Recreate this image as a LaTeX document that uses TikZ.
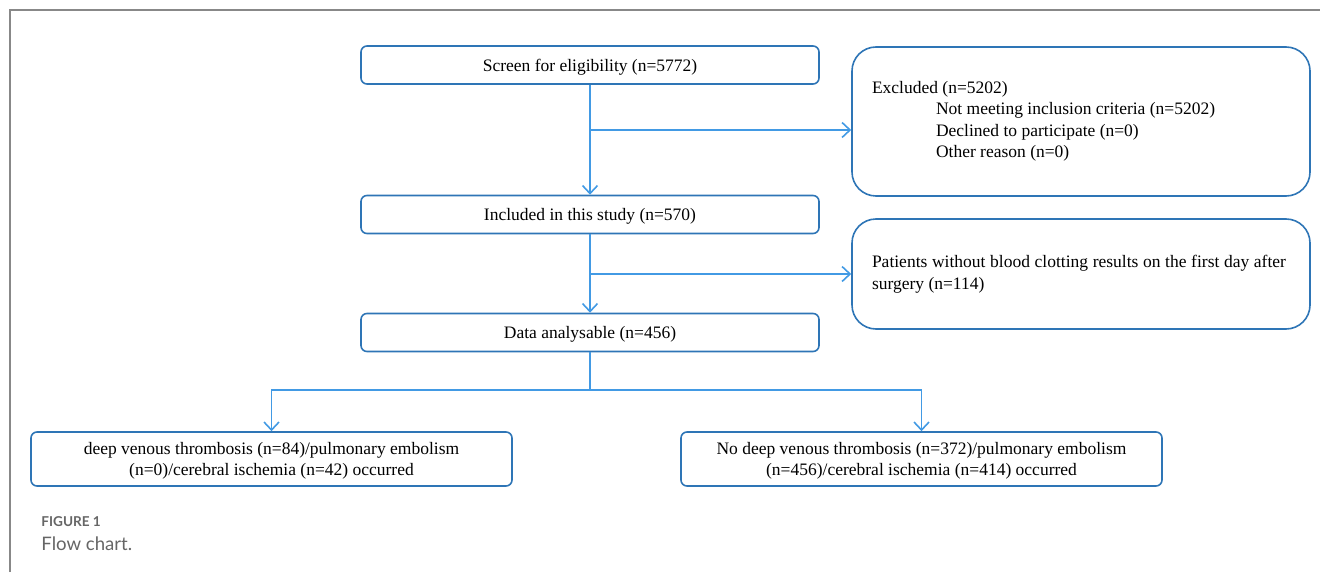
\documentclass[tikz,border=0pt]{standalone}
\usepackage{fontspec}
\setmainfont{Liberation Serif}
\newfontfamily\capfont{Lato}
\usepackage{tikz}
\usetikzlibrary{arrows.meta}

\definecolor{boxblue}{RGB}{46,117,182}
\definecolor{arrowblue}{RGB}{66,154,228}
\definecolor{framegray}{RGB}{136,136,136}
\definecolor{capgray}{RGB}{102,102,102}

\newcommand{\natspace}{\spaceskip=0pt\xspaceskip=0pt\relax}

\tikzset{
  flowbox/.style={draw=boxblue, line width=0.8pt, rounded corners=3pt, minimum width=229pt, minimum height=19pt, text depth=0pt, align=center, font=\fontsize{8.75}{10.75}\selectfont},
  sidebox/.style={draw=boxblue, line width=0.8pt, rounded corners=12pt, minimum width=229pt, text width=209pt, inner xsep=10pt, align=left, execute at begin node=\natspace, font=\fontsize{8.75}{10.75}\selectfont},
  endbox/.style={flowbox, minimum width=240.5pt, minimum height=27pt},
  flowline/.style={draw=arrowblue, line width=0.8pt},
  flowarrow/.style={flowline, -{Straight Barb[length=4pt,width=7.5pt]}},
  caption/.style={anchor=base west, inner sep=0pt, text=capgray}
}

\begin{document}
\begin{tikzpicture}[x=0.5pt, y=-0.5pt]

    \useasboundingbox (0,0) rectangle (1320,572);
    \draw[framegray, line width=1pt] (10,572) |- (1320,10);

    \node[flowbox]                      (screen) at (590, 65)      {Screen for eligibility (n=5772)};
    \node[sidebox, minimum height=74.5pt] (excl) at (1081, 121.5) {Excluded (n=5202)\\
      \hspace*{32pt}Not meeting inclusion criteria (n=5202)\\
      \hspace*{32pt}Declined to participate (n=0)\\
      \hspace*{32pt}Other reason (n=0)};
    \node[flowbox]                      (incl)   at (590, 214.5)   {Included in this study (n=570)};
    \node[sidebox, minimum height=55pt] (noclot) at (1081, 274)   {Patients without blood clotting results on the first day after surgery (n=114)};
    \node[flowbox]                      (data)   at (590, 332.5)   {Data analysable (n=456)};
    \node[endbox]                       (event)  at (271.5, 459)   {deep venous thrombosis (n=84)/pulmonary embolism\\(n=0)/cerebral ischemia (n=42) occurred};
    \node[endbox]                       (noevent) at (921.5, 459)  {No deep venous thrombosis (n=372)/pulmonary embolism\\(n=456)/cerebral ischemia (n=414) occurred};

    \coordinate (b1)    at (590, 130);
    \coordinate (b2)    at (590, 274);
    \coordinate (split) at (590, 390);

    \draw (screen) edge[flowarrow] (incl);
    \draw (incl)   edge[flowarrow] (data);
    \draw (b1)     edge[flowarrow] (b1 -| excl.west);
    \draw (b2)     edge[flowarrow] (b2 -| noclot.west);
    \draw (data)   edge[flowline]  (split);
    \draw[flowarrow] (split) -| (event);
    \draw[flowarrow] (split) -| (noevent);

    \node[caption, font=\capfont\bfseries\fontsize{6.8}{8}\selectfont] (figno)  at (41, 526) {FIGURE 1};
    \node[caption, font=\capfont\fontsize{9.3}{11}\selectfont]        (figcap) at (41, 550) {Flow chart.};
\end{tikzpicture}
\end{document}
